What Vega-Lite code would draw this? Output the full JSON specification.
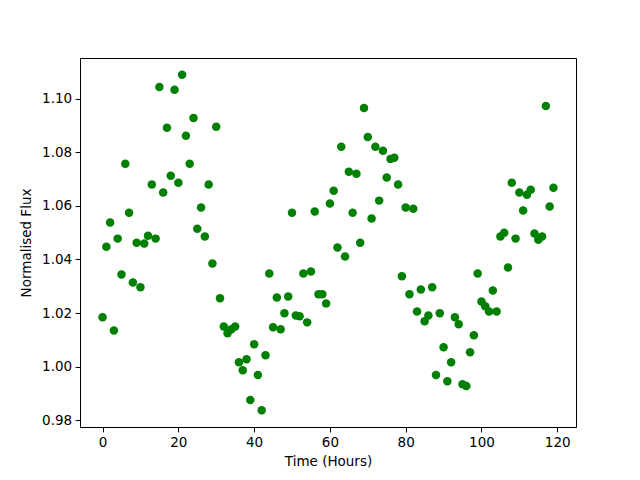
{
  "$schema": "https://vega.github.io/schema/vega-lite/v6.json",
  "width": 496,
  "height": 369,
  "autosize": {"type": "none"},
  "padding": {"left": 80, "top": 58, "right": 64, "bottom": 53},
  "background": "white",
  "config": {
    "view": {"stroke": "black", "strokeWidth": 1},
    "axis": {
      "labelFont": "DejaVu Sans",
      "titleFont": "DejaVu Sans",
      "labelFontSize": 13.5,
      "titleFontSize": 13.5,
      "titleFontWeight": "normal",
      "labelColor": "black",
      "titleColor": "black",
      "tickColor": "black",
      "domain": false,
      "grid": false,
      "tickSize": 4.9,
      "labelPadding": 3.5
    }
  },
  "data": {
    "values": [
      {"t":0,"f":1.0184},{"t":1,"f":1.0448},{"t":2,"f":1.0538},{"t":3,"f":1.0135},{"t":4,"f":1.0478},
      {"t":5,"f":1.0344},{"t":6,"f":1.0758},{"t":7,"f":1.0575},{"t":8,"f":1.0314},{"t":9,"f":1.0463},
      {"t":10,"f":1.0296},{"t":11,"f":1.046},{"t":12,"f":1.0489},{"t":13,"f":1.068},{"t":14,"f":1.0478},
      {"t":15,"f":1.1045},{"t":16,"f":1.065},{"t":17,"f":1.0892},{"t":18,"f":1.0713},{"t":19,"f":1.1034},
      {"t":20,"f":1.0687},{"t":21,"f":1.109},{"t":22,"f":1.0862},{"t":23,"f":1.0758},{"t":24,"f":1.0929},
      {"t":25,"f":1.0515},{"t":26,"f":1.0594},{"t":27,"f":1.0486},{"t":28,"f":1.068},{"t":29,"f":1.0385},
      {"t":30,"f":1.0896},{"t":31,"f":1.0255},{"t":32,"f":1.015},{"t":33,"f":1.0124},{"t":34,"f":1.0139},
      {"t":35,"f":1.015},{"t":36,"f":1.0016},{"t":37,"f":0.9986},{"t":38,"f":1.0027},{"t":39,"f":0.9875},
      {"t":40,"f":1.0083},{"t":41,"f":0.9968},{"t":42,"f":0.9837},{"t":43,"f":1.0042},{"t":44,"f":1.0348},
      {"t":45,"f":1.0147},{"t":46,"f":1.0258},{"t":47,"f":1.0139},{"t":48,"f":1.0199},{"t":49,"f":1.0262},
      {"t":50,"f":1.0575},{"t":51,"f":1.0191},{"t":52,"f":1.0188},{"t":53,"f":1.0348},{"t":54,"f":1.0165},
      {"t":55,"f":1.0355},{"t":56,"f":1.0579},{"t":57,"f":1.027},{"t":58,"f":1.027},{"t":59,"f":1.0236},
      {"t":60,"f":1.0609},{"t":61,"f":1.0657},{"t":62,"f":1.0445},{"t":63,"f":1.0821},{"t":64,"f":1.0411},
      {"t":65,"f":1.0728},{"t":66,"f":1.0575},{"t":67,"f":1.072},{"t":68,"f":1.0463},{"t":69,"f":1.0966},
      {"t":70,"f":1.0858},{"t":71,"f":1.0553},{"t":72,"f":1.0821},{"t":73,"f":1.062},{"t":74,"f":1.0806},
      {"t":75,"f":1.0706},{"t":76,"f":1.0776},{"t":77,"f":1.078},{"t":78,"f":1.068},{"t":79,"f":1.0337},
      {"t":80,"f":1.0594},{"t":81,"f":1.027},{"t":82,"f":1.059},{"t":83,"f":1.0206},{"t":84,"f":1.0288},
      {"t":85,"f":1.0169},{"t":86,"f":1.0191},{"t":87,"f":1.0296},{"t":88,"f":0.9968},{"t":89,"f":1.0199},
      {"t":90,"f":1.0072},{"t":91,"f":0.9945},{"t":92,"f":1.0016},{"t":93,"f":1.0184},{"t":94,"f":1.0158},
      {"t":95,"f":0.9934},{"t":96,"f":0.9927},{"t":97,"f":1.0053},{"t":98,"f":1.0117},{"t":99,"f":1.0348},
      {"t":100,"f":1.0243},{"t":101,"f":1.0225},{"t":102,"f":1.0206},{"t":103,"f":1.0284},{"t":104,"f":1.0206},
      {"t":105,"f":1.0486},{"t":106,"f":1.05},{"t":107,"f":1.037},{"t":108,"f":1.0687},{"t":109,"f":1.0478},
      {"t":110,"f":1.065},{"t":111,"f":1.0583},{"t":112,"f":1.0642},{"t":113,"f":1.0661},{"t":114,"f":1.0497},
      {"t":115,"f":1.0474},{"t":116,"f":1.0486},{"t":117,"f":1.0974},{"t":118,"f":1.0598},{"t":119,"f":1.0668}
    ]
  },
  "mark": {"type": "circle", "size": 72, "color": "#008000", "opacity": 1},
  "encoding": {
    "x": {
      "field": "t", "type": "quantitative",
      "scale": {"domain": [-5.95, 124.95], "nice": false, "zero": false},
      "axis": {"title": "Time (Hours)", "values": [0, 20, 40, 60, 80, 100, 120], "titlePadding": 6}
    },
    "y": {
      "field": "f", "type": "quantitative",
      "scale": {"domain": [0.9774, 1.1153], "nice": false, "zero": false},
      "axis": {"title": "Normalised Flux", "values": [0.98, 1.0, 1.02, 1.04, 1.06, 1.08, 1.1], "format": ".2f", "titlePadding": 8}
    }
  }
}
